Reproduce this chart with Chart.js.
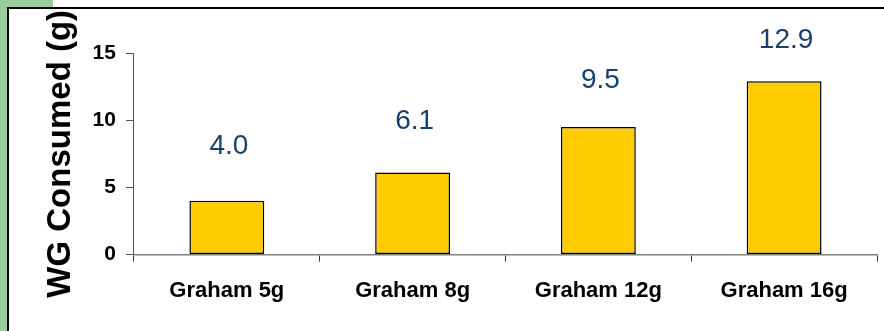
<!DOCTYPE html>
<html>
<head>
<meta charset="utf-8">
<script src="https://cdn.jsdelivr.net/npm/chart.js@4/dist/chart.umd.min.js"></script>
<style>
  html, body { margin: 0; padding: 0; background: #fff; }
  body { width: 884px; height: 331px; position: relative; overflow: hidden; }
  #greenTop { position: absolute; left: 0; top: 0; width: 53px; height: 8px; background: #99CC99; }
  #greenLeft { position: absolute; left: 0; top: 0; width: 7px; height: 331px; background: #99CC99; }
  #frame { position: absolute; left: 7px; top: 7px; width: 877px; height: 324px; border-top: 2px solid #000; border-left: 2px solid #000; box-sizing: border-box; background: #fff; }
  #wrap { position: absolute; left: 0; top: 0; width: 884px; height: 331px; }
</style>
</head>
<body>
<div id="greenTop"></div>
<div id="greenLeft"></div>
<div id="frame"></div>
<div id="wrap"><canvas id="c" width="884" height="331"></canvas></div>
<script>
const categories = ["Graham 5g", "Graham 8g", "Graham 12g", "Graham 16g"];
const wgConsumed = [4.0, 6.1, 9.5, 12.9];
const yTicks = [0, 5, 10, 15];
const yAxisTitle = "WG Consumed (g)";

const FONT = "'Liberation Sans', Arial, sans-serif";

const valueLabels = {
  id: 'valueLabels',
  afterDatasetsDraw(chart) {
    const ctx = chart.ctx;
    const meta = chart.getDatasetMeta(0);
    const ys = chart.scales.y;
    ctx.save();
    ctx.font = "28px " + FONT;
    ctx.fillStyle = "#17406D";
    ctx.textAlign = "center";
    ctx.textBaseline = "alphabetic";
    meta.data.forEach((bar, i) => {
      const v = wgConsumed[i];
      const y = ys.getPixelForValue(v * 0.88 + 4);
      ctx.fillText(v.toFixed(1), bar.x + 2, y);
    });
    ctx.restore();
  }
};

new Chart(document.getElementById('c'), {
  type: 'bar',
  data: {
    labels: categories,
    datasets: [{
      data: wgConsumed,
      backgroundColor: '#FFCC00',
      borderColor: '#000000',
      borderWidth: 1.5,
      borderSkipped: false,
      barPercentage: 0.403,
      categoryPercentage: 1.0
    }]
  },
  options: {
    responsive: false,
    animation: false,
    events: [],
    layout: { padding: { left: 41, right: 7, top: 53, bottom: 11 } },
    plugins: { legend: { display: false }, tooltip: { enabled: false } },
    scales: {
      x: {
        offset: true,
        grid: { offset: true, drawOnChartArea: false, drawTicks: true, tickLength: 7, color: '#333', lineWidth: 1 },
        border: { display: true, color: '#808080', width: 1.5 },
        ticks: { color: '#000', font: { family: FONT, size: 22, weight: 'bold' }, padding: 16, maxRotation: 0 }
      },
      y: {
        min: 0, max: 15,
        afterBuildTicks(axis) { axis.ticks = yTicks.map(v => ({ value: v })); },
        grid: { drawOnChartArea: false, drawTicks: true, tickLength: 8, color: '#555', lineWidth: 1 },
        border: { display: true, color: '#555', width: 1 },
        ticks: { color: '#000', font: { family: FONT, size: 21, weight: 'bold' }, padding: 10 },
        title: { display: true, text: yAxisTitle, color: '#000', font: { family: FONT, size: 33, weight: 'bold' }, padding: { top: 0, bottom: 2 } }
      }
    }
  },
  plugins: [valueLabels]
});
</script>
</body>
</html>
